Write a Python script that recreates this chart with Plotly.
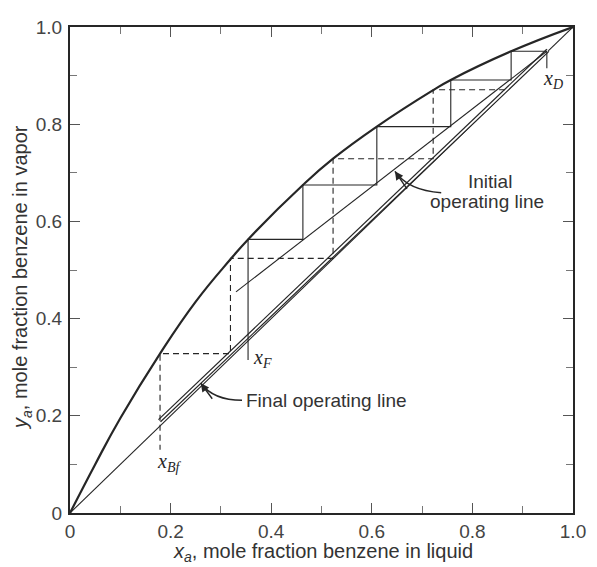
import plotly.graph_objects as go

# ---- data ----
eq_x = [0.0, 0.05, 0.10, 0.179, 0.25, 0.319, 0.354, 0.463, 0.523, 0.610, 0.722, 0.757, 0.877, 1.0]
eq_y = [0.0, 0.100, 0.195, 0.328, 0.435, 0.522, 0.563, 0.675, 0.729, 0.795, 0.870, 0.891, 0.950, 1.0]

diag_x = [0.0, 1.0]
diag_y = [0.0, 1.0]

init_op_x = [0.330, 0.948]
init_op_y = [0.455, 0.950]

final_op_x = [0.178, 0.950]
final_op_y = [0.190, 0.952]

# solid steps (initial operating line)
step_init_x = [0.948, 0.877, 0.877, 0.757, 0.757, 0.610, 0.610, 0.463, 0.463, 0.354, 0.354]
step_init_y = [0.950, 0.950, 0.891, 0.891, 0.795, 0.795, 0.675, 0.675, 0.563, 0.563, 0.315]

# dashed steps (final operating line)
step_final_x = [0.865, 0.722, 0.722, 0.523, 0.523, 0.319, 0.319, 0.179, 0.179]
step_final_y = [0.871, 0.871, 0.729, 0.729, 0.524, 0.524, 0.328, 0.328, 0.130]

# x_D marker tick
xd_tick_x = [0.948, 0.948]
xd_tick_y = [0.950, 0.915]

tick_vals = [0.0, 0.2, 0.4, 0.6, 0.8, 1.0]
tick_text = ["0", "0.2", "0.4", "0.6", "0.8", "1.0"]
minor_vals = [0.1, 0.3, 0.5, 0.7, 0.9]

# label positions (data coords)
lbl_xF = (0.383, 0.318)
lbl_xBf = (0.197, 0.103)
lbl_xD = (0.960, 0.891)
lbl_init1 = (0.835, 0.683)
lbl_init2 = (0.829, 0.640)
lbl_final = (0.346, 0.232)
arrow_init = dict(tip=(0.646, 0.703), ctrl=(0.672, 0.664), end=(0.738, 0.659))
arrow_final = dict(tip=(0.260, 0.267), ctrl=(0.285, 0.232), end=(0.342, 0.232))

INK = "#262626"
fig = go.Figure()

fig.add_trace(go.Scatter(x=diag_x, y=diag_y, mode="lines",
                         line=dict(color=INK, width=1.1)))
# double line for final operating line
fig.add_trace(go.Scatter(x=final_op_x, y=final_op_y, mode="lines",
                         line=dict(color=INK, width=4.2)))
fig.add_trace(go.Scatter(x=final_op_x, y=final_op_y, mode="lines",
                         line=dict(color="white", width=1.8)))
fig.add_trace(go.Scatter(x=eq_x, y=eq_y, mode="lines",
                         line=dict(color=INK, width=2.2, shape="spline", smoothing=1.3)))
fig.add_trace(go.Scatter(x=init_op_x, y=init_op_y, mode="lines",
                         line=dict(color=INK, width=1.1)))
fig.add_trace(go.Scatter(x=step_init_x, y=step_init_y, mode="lines",
                         line=dict(color=INK, width=1.1)))
fig.add_trace(go.Scatter(x=step_final_x, y=step_final_y, mode="lines",
                         line=dict(color=INK, width=1.1, dash="6px,4px")))
fig.add_trace(go.Scatter(x=xd_tick_x, y=xd_tick_y, mode="lines",
                         line=dict(color=INK, width=1.1)))

def curve(a):
    (x0, y0), (cx, cy), (x1, y1) = a["tip"], a["ctrl"], a["end"]
    return f"M {x0},{y0} Q {cx},{cy} {x1},{y1}"

for a in (arrow_init, arrow_final):
    fig.add_shape(type="path", path=curve(a), xref="x", yref="y",
                  line=dict(color=INK, width=1.6))
    fig.add_annotation(x=a["tip"][0], y=a["tip"][1], ax=a["ctrl"][0], ay=a["ctrl"][1],
                       axref="x", ayref="y", xref="x", yref="y", text="",
                       showarrow=True, arrowhead=2, arrowsize=1.2, arrowwidth=1.4,
                       arrowcolor=INK, standoff=0)

serif = dict(family="Liberation Serif", size=20, color=INK)
sans = dict(family="Liberation Sans", size=19, color="#333333")

fig.add_annotation(x=lbl_xF[0], y=lbl_xF[1], text="<i>x<sub>F</sub></i>",
                   showarrow=False, font=serif)
fig.add_annotation(x=lbl_xBf[0], y=lbl_xBf[1], text="<i>x<sub>Bf</sub></i>",
                   showarrow=False, font=serif)
fig.add_annotation(x=lbl_xD[0], y=lbl_xD[1], text="<i>x<sub>D</sub></i>",
                   showarrow=False, font=serif)
fig.add_annotation(x=lbl_init1[0], y=lbl_init1[1], text="Initial",
                   showarrow=False, font=sans)
fig.add_annotation(x=lbl_init2[0], y=lbl_init2[1], text="operating line",
                   showarrow=False, font=sans)
fig.add_annotation(x=lbl_final[0], y=lbl_final[1], text="Final operating line",
                   showarrow=False, font=sans, xanchor="left")

# axis titles
title_font = dict(family="Liberation Sans", size=20, color="#333333")
fig.add_annotation(xref="paper", yref="paper", x=0.503, y=-0.081,
                   xanchor="center", yanchor="middle",
                   text="<i>x<sub>a</sub></i>, mole fraction benzene in liquid",
                   showarrow=False, font=title_font)
fig.add_annotation(xref="paper", yref="paper", x=-0.095, y=0.484, textangle=-90,
                   xanchor="center", yanchor="middle",
                   text="<i>y<sub>a</sub></i>, mole fraction benzene in vapor",
                   showarrow=False, font=title_font)

axis_common = dict(range=[0, 1], showgrid=False, zeroline=False,
                   showline=True, linecolor=INK, linewidth=2, mirror="allticks",
                   ticks="inside", ticklen=10, tickwidth=1, tickcolor="#555555",
                   tickmode="array", tickvals=tick_vals, ticktext=tick_text,
                   tickfont=dict(family="Liberation Sans", size=19, color="#444444"),
                   minor=dict(tickmode="array", tickvals=minor_vals, ticks="inside",
                              ticklen=7, tickwidth=1, tickcolor="#777777"),
                   fixedrange=True)

fig.update_xaxes(**axis_common)
fig.update_yaxes(**axis_common, ticklabelstandoff=2)

# the page body adds an 8px margin; size the figure so the plot area lands
# where the reference's does inside the 597x567 window
fig.update_layout(width=589, height=559,
                  margin=dict(l=62, r=24, t=9, b=54),
                  paper_bgcolor="white", plot_bgcolor="white",
                  showlegend=False)

fig.write_html("out.html")
